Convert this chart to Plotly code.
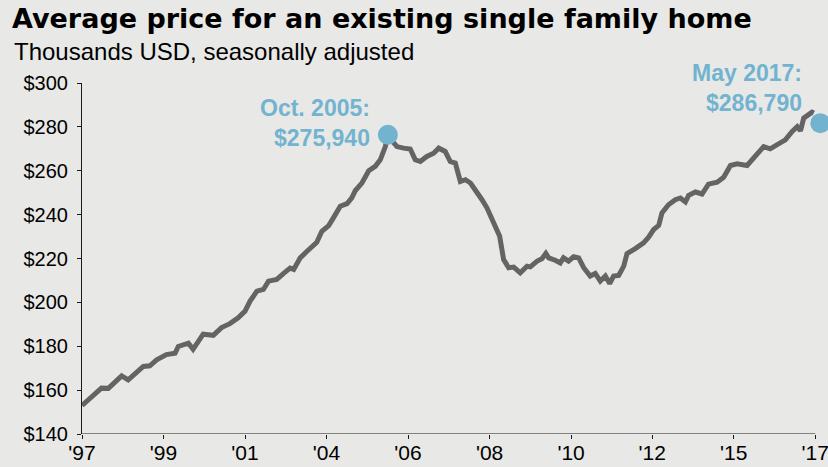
import plotly.graph_objects as go

# Decimal-year positions and prices (thousands USD)
years = [1997.00, 1997.31, 1997.54, 1997.73, 1997.91, 1998.10, 1998.28, 1998.51, 1998.70, 1998.88,
         1999.07, 1999.34, 1999.58, 1999.67, 1999.95, 2000.08, 2000.36, 2000.64, 2000.87, 2001.10,
         2001.33, 2001.52, 2001.66, 2001.85, 2002.03, 2002.17, 2002.40, 2002.59, 2002.77, 2002.87,
         2003.05, 2003.24, 2003.51, 2003.65, 2003.84, 2003.97, 2004.16, 2004.35, 2004.48, 2004.58,
         2004.76, 2004.95, 2005.13, 2005.27, 2005.41, 2005.48, 2005.73, 2005.92, 2006.10, 2006.24,
         2006.38, 2006.56, 2006.75, 2006.89, 2007.07, 2007.21, 2007.35, 2007.49, 2007.63, 2007.77,
         2007.95, 2008.09, 2008.23, 2008.41, 2008.58, 2008.69, 2008.83, 2008.97, 2009.15, 2009.34,
         2009.43, 2009.62, 2009.75, 2009.86, 2009.94, 2010.12, 2010.26, 2010.35, 2010.49, 2010.63,
         2010.77, 2010.91, 2011.09, 2011.23, 2011.37, 2011.51, 2011.63, 2011.74, 2011.88, 2012.02,
         2012.11, 2012.34, 2012.57, 2012.71, 2012.85, 2012.99, 2013.08, 2013.26, 2013.45, 2013.59,
         2013.73, 2013.82, 2014.01, 2014.19, 2014.37, 2014.61, 2014.79, 2014.98, 2015.16, 2015.44,
         2015.62, 2015.90, 2016.08, 2016.27, 2016.50, 2016.69, 2016.83, 2016.92, 2017.01, 2017.24,
         2017.29]
prices = [153.0, 157.9, 160.9, 160.8, 163.5, 166.5, 164.7, 167.7, 170.8, 171.1,
          173.8, 176.2, 176.8, 179.9, 181.4, 178.6, 185.5, 185.0, 188.5, 190.3,
          193.0, 196.0, 200.6, 205.1, 205.9, 209.7, 210.5, 213.2, 215.6, 215.0,
          220.3, 223.3, 227.4, 232.4, 235.0, 238.5, 243.8, 245.0, 247.6, 251.0,
          254.4, 260.0, 262.0, 265.0, 271.0, 276.0, 271.0, 270.3, 269.9, 265.0,
          264.2, 266.5, 268.0, 270.3, 268.8, 264.2, 263.5, 255.1, 255.9, 254.4,
          250.6, 246.8, 243.0, 236.9, 230.1, 219.5, 215.8, 216.1, 213.5, 216.5,
          216.2, 218.8, 219.9, 222.3, 220.3, 219.2, 218.0, 220.3, 218.8, 220.8,
          220.3, 215.8, 212.0, 213.2, 209.7, 212.0, 208.6, 212.0, 212.3, 216.5,
          222.2, 224.5, 227.1, 229.7, 233.2, 235.1, 240.8, 244.5, 246.8, 247.6,
          245.8, 248.8, 250.3, 249.4, 253.9, 254.8, 257.0, 262.4, 263.2, 262.4,
          265.8, 271.0, 270.0, 272.1, 274.1, 277.9, 280.1, 278.2, 284.0, 286.7,
          286.3]

# Highlighted points
marker_x = [2005.48, 2017.47]
marker_y = [276.4, 281.7]
marker_labels = ["Oct. 2005:<br>$275,940", "May 2017:<br>$286,790"]

# Axis ticks
x_tickvals = [1997.00, 1999.26, 2001.52, 2003.78, 2006.04, 2008.30, 2010.56, 2012.81, 2015.07, 2017.33]
x_ticktext = ["'97", "'99", "'01", "'04", "'06", "'08", "'10", "'12", "'15", "'17"]
y_tickvals = [140, 160, 180, 200, 220, 240, 260, 280, 300]
y_ticktext = ["$140", "$160", "$180", "$200", "$220", "$240", "$260", "$280", "$300"]

FONT = "Liberation Sans, Arial, sans-serif"
TITLE_FONT = "DejaVu Sans, Liberation Sans, sans-serif"
BLUE = "#72b3d0"
BG = "#e8e8e6"
AXIS = "#1a1a1a"

# geometry: 1997 at x=82 px, 2017.33 at x=815 px
X0, X_LAST, X_END = 1997.0, 2017.33, 2017.6
PX_PER_YEAR = (815 - 82) / (X_LAST - X0)
right_px = 82 + (X_END - X0) * PX_PER_YEAR

fig = go.Figure()
fig.add_trace(go.Scatter(x=years, y=prices, mode="lines",
                         line=dict(color="#646464", width=5), hoverinfo="skip"))
fig.add_trace(go.Scatter(x=marker_x, y=marker_y, mode="markers",
                         marker=dict(color=BLUE, size=20), cliponaxis=False, hoverinfo="skip"))

# x axis baseline ending at the last tick
fig.add_shape(type="line", xref="x", yref="y", x0=X0, x1=X_LAST, y0=140, y1=140,
              line=dict(color=AXIS, width=1), layer="above")

yshifts = [12, 35]
for mx, my, txt, ys in zip(marker_x, marker_y, marker_labels, yshifts):
    fig.add_annotation(x=mx, y=my, xref="x", yref="y", text=txt, showarrow=False,
                       xanchor="right", yanchor="middle", align="right",
                       xshift=-16, yshift=ys,
                       font=dict(family=FONT, size=23, color=BLUE, weight="bold"))

fig.add_annotation(text="Thousands USD, seasonally adjusted", xref="paper", yref="paper",
                   x=(12 - 82) / (right_px - 82), y=(434 - 36) / 351, xanchor="left", yanchor="top",
                   showarrow=False, font=dict(family=FONT, size=24, color="#000000"))

fig.update_layout(
    width=828, height=467,
    margin=dict(l=82, r=828 - right_px, t=83, b=33),
    paper_bgcolor=BG, plot_bgcolor=BG,
    showlegend=False,
    title=dict(text="<b>Average price for an existing single family home</b>",
               xref="container", yref="container", x=12 / 828, y=1 - 9 / 467,
               xanchor="left", yanchor="top",
               font=dict(family=TITLE_FONT, size=27, color="#000000")),
    font=dict(family=FONT, color="#000000"),
    xaxis=dict(range=[X0, X_END], tickvals=x_tickvals, ticktext=x_ticktext,
               showgrid=False, zeroline=False, showline=False,
               ticks="outside", ticklen=4, tickcolor=AXIS, automargin=False,
               ticklabelstandoff=-4, ticklabeloverflow="allow",
               tickfont=dict(family=FONT, size=21, color="#000000")),
    yaxis=dict(range=[140, 300], tickvals=y_tickvals, ticktext=y_ticktext,
               showgrid=False, zeroline=False, showline=True, linecolor=AXIS, linewidth=1,
               ticks="outside", ticklen=4, tickcolor=AXIS, ticklabelstandoff=5,
               automargin=False,
               tickfont=dict(family=FONT, size=20, color="#000000")),
)

fig.write_html("out.html", config={"displayModeBar": False},
               post_script="document.body.style.margin='0';"
                           "document.body.style.overflow='hidden';"
                           "document.body.style.background='" + BG + "';")
